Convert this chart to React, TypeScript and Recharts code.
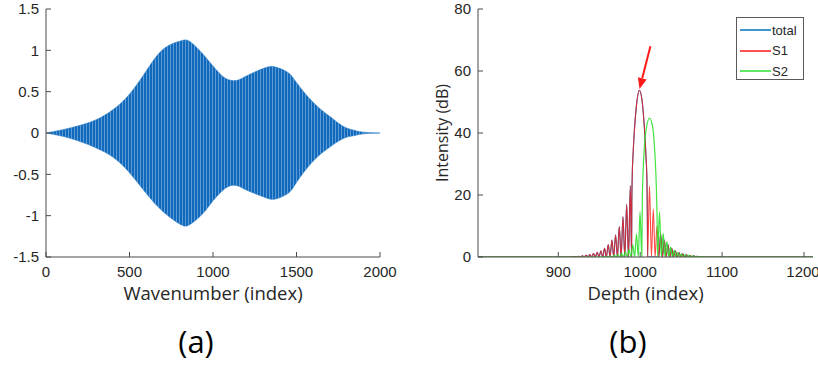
import React from 'react';
import { ComposedChart, LineChart, Line, Area, XAxis, YAxis, ReferenceLine } from 'recharts';

// ---------- Panel (a): interference signal envelope ----------
const wavenumberIdx = [0, 100, 200, 300, 400, 500, 600, 700, 800, 850, 900, 950, 1000, 1050, 1100, 1150, 1200, 1300, 1370, 1450, 1500, 1600, 1700, 1750, 1800, 1850, 1900, 2000];
const envUpper = [0, 0.04, 0.09, 0.16, 0.28, 0.47, 0.75, 1.01, 1.11, 1.12, 1.04, 0.93, 0.81, 0.7, 0.64, 0.64, 0.69, 0.78, 0.8, 0.73, 0.61, 0.37, 0.2, 0.12, 0.06, 0.03, 0.01, 0];
const envLower = [0, -0.04, -0.1, -0.18, -0.29, -0.48, -0.73, -0.95, -1.1, -1.12, -1.05, -0.95, -0.82, -0.71, -0.64, -0.64, -0.69, -0.77, -0.8, -0.73, -0.6, -0.34, -0.17, -0.1, -0.05, -0.03, -0.01, 0];
const aXTicks = [0, 500, 1000, 1500, 2000];
const aYTicks = [-1.5, -1, -0.5, 0, 0.5, 1, 1.5];

// ---------- Panel (b): depth profiles [depth, intensity dB] ----------
const s1Points: [number, number][] = [
  [802, 0], [914, 0], [916, 0.1], [918.2, 0], [920.5, 0.15], [922.7, 0], [925, 0.25], [927.2, 0],
  [929.5, 0.4], [931.7, 0], [934, 0.55], [936.2, 0], [938.5, 0.8], [940.7, 0], [943, 1.1], [945.2, 0],
  [947.5, 1.5], [949.7, 0], [952, 2], [954.2, 0], [956.5, 2.8], [958.7, 0], [961, 4], [963.2, 0],
  [965.5, 5.5], [967.7, 0], [970, 7.2], [972.2, 0], [974.5, 9.8], [976.7, 0], [979, 13], [981.2, 0],
  [983.5, 17], [985.7, 0], [988, 23], [989.5, 0], [989.8, 18], [990.3, 26], [991.5, 34], [993, 41],
  [995.5, 49], [999, 53.8], [1002.5, 50], [1005.3, 41], [1007, 33], [1008.3, 24], [1008.8, 12], [1009.1, 0],
  [1011.4, 23], [1013.7, 0], [1016, 15.5], [1018.2, 0], [1020.5, 10], [1022.7, 0], [1025, 7.5], [1027.2, 0],
  [1029.5, 5.5], [1031.7, 0], [1034, 4], [1036.2, 0], [1038.5, 2.8], [1040.7, 0], [1043, 2], [1045.2, 0],
  [1047.5, 1.4], [1049.7, 0], [1052, 1], [1054.2, 0], [1056.5, 0.7], [1058.7, 0], [1061, 0.5], [1063.2, 0],
  [1065.5, 0.35], [1067.7, 0], [1070, 0.2], [1072.5, 0], [1075, 0.1], [1077.5, 0], [1211, 0],
];
const s2Points: [number, number][] = [
  [802, 0], [952.8, 0], [955, 0.1], [957.2, 0], [959.5, 0.2], [961.7, 0], [964, 0.3], [966.2, 0],
  [968.5, 0.5], [970.7, 0], [973, 0.8], [975.2, 0], [977.5, 1.1], [979.7, 0], [982, 1.7], [984.2, 0],
  [986.5, 2.5], [988.7, 0], [991, 4], [993.2, 0], [995.5, 7.5], [997.7, 0], [999.8, 14.6], [1002, 0],
  [1002.6, 18], [1003.5, 27], [1005, 35], [1007.5, 41.5], [1011.5, 44.8], [1015.5, 41.5], [1018, 33], [1019.8, 22],
  [1020.8, 10], [1021.3, 0], [1023.6, 14.6], [1025.8, 0], [1028.1, 7.6], [1030.3, 0], [1032.6, 5], [1034.8, 0],
  [1037.1, 3.2], [1039.3, 0], [1041.6, 2.2], [1043.8, 0], [1046.1, 1.5], [1048.3, 0], [1050.6, 1], [1052.8, 0],
  [1055.1, 0.7], [1057.3, 0], [1059.6, 0.5], [1061.8, 0], [1064.1, 0.35], [1066.3, 0], [1068.6, 0.25], [1070.8, 0],
  [1073.1, 0.15], [1075.3, 0], [1077.6, 0.1], [1079.8, 0], [1211, 0],
];
const totalPoints: [number, number][] = [
  [802, 0], [914, 0], [916, 0.1], [918.2, 0], [920.5, 0.15], [922.7, 0], [925, 0.25], [927.2, 0],
  [929.5, 0.4], [931.7, 0], [934, 0.55], [936.2, 0], [938.5, 0.8], [940.7, 0], [943, 1.1], [945.2, 0],
  [947.5, 1.5], [949.7, 0], [952, 2], [954.2, 0], [956.5, 2.8], [958.7, 0], [961, 4], [963.2, 0],
  [965.5, 5.5], [967.7, 0], [970, 7.2], [972.2, 0], [974.5, 9.8], [976.7, 0], [979, 13], [981.2, 0],
  [983.5, 17], [985.7, 0], [988, 23], [989.5, 0], [989.8, 18], [990.3, 26], [991.5, 34], [993, 41],
  [995.5, 49], [999, 53.8], [1002.5, 50], [1005.3, 41], [1007, 33], [1008.3, 24], [1008.8, 12], [1009.1, 0],
  [1022.7, 0], [1025, 7.5], [1027.2, 0], [1029.5, 5.5], [1031.7, 0], [1034, 4], [1036.2, 0],
  [1038.5, 2.8], [1040.7, 0], [1043, 2], [1045.2, 0], [1047.5, 1.4], [1049.7, 0], [1052, 1], [1054.2, 0],
  [1056.5, 0.7], [1058.7, 0], [1061, 0.5], [1063.2, 0], [1065.5, 0.35], [1067.7, 0], [1070, 0.2], [1072.5, 0],
  [1075, 0.1], [1077.5, 0], [1211, 0],
];
const bXTicks = [900, 1000, 1100, 1200];
const bYTicks = [0, 20, 40, 60, 80];
const legendNames = ['total', 'S1', 'S2'];
const legendColors = ['#0072BD', '#FF1A1A', '#2EE02E'];
const arrowTail = { depth: 1012.5, intensity: 68 };
const arrowTip = { depth: 999.2, intensity: 54.2 };

const envData = wavenumberIdx.map((x, i) => ({ x, range: [envLower[i], envUpper[i]] }));
const toData = (pts: [number, number][]) => pts.map(([depth, v]) => ({ depth, v }));

const AXIS = '#4a4a4a';
const TXT = '#262626';
const tickFont = { fill: TXT, fontSize: 15, fontFamily: '"Liberation Sans", Arial, sans-serif' };
const labelFont = { fill: TXT, fontSize: 18.5, fontFamily: '"Open Sans", sans-serif' };
const yLabelFont = { fill: TXT, fontSize: 16, fontFamily: '"Open Sans", sans-serif' };

const ArrowShape = (p: any) => {
  const { x1, y1, x2, y2 } = p;
  const dx = x2 - x1;
  const dy = y2 - y1;
  const len = Math.sqrt(dx * dx + dy * dy) || 1;
  const ux = dx / len;
  const uy = dy / len;
  const hl = 11;
  const hw = 4.5;
  const bx = x2 - ux * hl;
  const by = y2 - uy * hl;
  const pts = `${x2},${y2} ${bx - uy * hw},${by + ux * hw} ${bx + uy * hw},${by - ux * hw}`;
  return (
    <g>
      <line x1={x1} y1={y1} x2={bx} y2={by} stroke="#FF1A1A" strokeWidth={2} />
      <polygon points={pts} fill="#FF1A1A" />
    </g>
  );
};

export default function App() {
  return (
    <div style={{ position: 'absolute', left: 0, top: 0, width: 818, height: 367, background: '#fff', overflow: 'hidden' }}>
      <div style={{ position: 'absolute', left: 0, top: 0 }}>
        <ComposedChart width={400} height={367} data={envData} margin={{ top: 9, right: 20, left: 0, bottom: 80 }}>
          <defs>
            <pattern id="stripes" width="3" height="10" patternUnits="userSpaceOnUse">
              <rect width="3" height="10" fill="#1169bb" />
              <rect x="2" width="1" height="10" fill="#5c9bd6" />
            </pattern>
          </defs>
          <XAxis dataKey="x" type="number" domain={[0, 2000]} ticks={aXTicks} allowDataOverflow
            stroke={AXIS} tickSize={-5} tickMargin={14} tick={tickFont} height={30}
            label={{ value: 'Wavenumber (index)', position: 'bottom', offset: 0, style: labelFont }} />
          <YAxis type="number" domain={[-1.5, 1.5]} ticks={aYTicks} allowDataOverflow
            stroke={AXIS} tickSize={-5} tickMargin={12} tick={tickFont} width={46} />
          <XAxis xAxisId="top" orientation="top" mirror type="number" domain={[0, 2000]} ticks={aXTicks}
            height={0} tick={false} tickSize={5} stroke={AXIS} allowDataOverflow />
          <YAxis yAxisId="right" orientation="right" mirror type="number" domain={[-1.5, 1.5]} ticks={aYTicks}
            width={0} tick={false} tickSize={5} stroke={AXIS} allowDataOverflow />
          <Area dataKey="range" type="natural" stroke="#2a7cc6" strokeWidth={0.6} fill="url(#stripes)" fillOpacity={1}
            isAnimationActive={false} dot={false} activeDot={false} />
        </ComposedChart>
      </div>

      <div style={{ position: 'absolute', left: 406, top: 0 }}>
        <LineChart width={412} height={367} margin={{ top: 9, right: 5, left: 0, bottom: 80 }}>
          <XAxis dataKey="depth" type="number" domain={[802, 1211]} ticks={bXTicks} allowDataOverflow
            stroke={AXIS} tickSize={-5} tickMargin={14} tick={tickFont} height={30}
            label={{ value: 'Depth (index)', position: 'bottom', offset: 0, style: labelFont }} />
          <YAxis type="number" domain={[0, 80]} ticks={bYTicks} allowDataOverflow
            stroke={AXIS} tickSize={-5} tickMargin={12} tick={tickFont} width={72}
            label={{ value: 'Intensity (dB)', angle: -90, position: 'center', style: yLabelFont }} />
          <XAxis xAxisId="top" orientation="top" mirror type="number" domain={[802, 1211]} ticks={bXTicks}
            height={0} tick={false} tickSize={5} stroke={AXIS} allowDataOverflow />
          <YAxis yAxisId="right" orientation="right" mirror type="number" domain={[0, 80]} ticks={bYTicks}
            width={0} tick={false} tickSize={5} stroke={AXIS} allowDataOverflow />
          <Line data={toData(totalPoints)} dataKey="v" name="total" type="monotone" stroke={legendColors[0]}
            strokeWidth={1.1} dot={false} activeDot={false} isAnimationActive={false} />
          <Line data={toData(s1Points)} dataKey="v" name="S1" type="monotone" stroke={legendColors[1]} strokeOpacity={0.8}
            strokeWidth={1.1} dot={false} activeDot={false} isAnimationActive={false} />
          <Line data={toData(s2Points)} dataKey="v" name="S2" type="monotone" stroke={legendColors[2]} strokeOpacity={0.9}
            strokeWidth={1.2} dot={false} activeDot={false} isAnimationActive={false} />
          <ReferenceLine segment={[{ x: arrowTail.depth, y: arrowTail.intensity }, { x: arrowTip.depth, y: arrowTip.intensity }]}
            stroke="#FF1A1A" ifOverflow="visible" shape={ArrowShape} />
        </LineChart>
      </div>

      <div style={{ position: 'absolute', left: 736, top: 17, width: 68, height: 63, border: '1px solid #5a5a5a', background: '#fff', boxSizing: 'border-box' }}>
        {legendNames.map((n, i) => (
          <div key={n} style={{ position: 'absolute', left: 3, top: 4 + i * 20.5, height: 16, display: 'flex', alignItems: 'center' }}>
            <svg width={31} height={16} style={{ display: 'block' }}>
              <line x1={0} y1={8} x2={31} y2={8} stroke={legendColors[i]} strokeWidth={1.5} />
            </svg>
            <span style={{ marginLeft: 1, fontSize: 13, color: TXT, fontFamily: '"Liberation Sans", Arial, sans-serif' }}>{n}</span>
          </div>
        ))}
      </div>

      <div style={{ position: 'absolute', left: 146, top: 326, width: 100, textAlign: 'center', fontSize: 31, lineHeight: '31px', color: '#000', fontFamily: '"Open Sans", sans-serif' }}>(a)</div>
      <div style={{ position: 'absolute', left: 578, top: 326, width: 100, textAlign: 'center', fontSize: 31, lineHeight: '31px', color: '#000', fontFamily: '"Open Sans", sans-serif' }}>(b)</div>
    </div>
  );
}
